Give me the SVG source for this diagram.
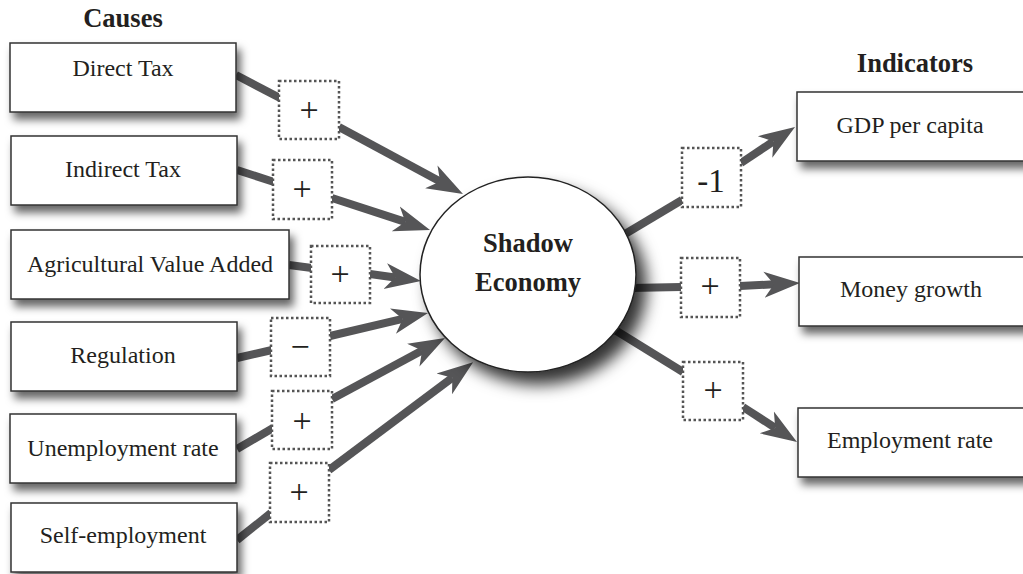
<svg xmlns="http://www.w3.org/2000/svg" width="1023" height="574" viewBox="0 0 1023 574">
<defs>
<style>
.box{fill:#fff;stroke:#333;stroke-width:1.5}
.dot{fill:#fff;stroke:#555;stroke-width:2.5;stroke-dasharray:2.5 2.5}
.lbl{font-family:"Liberation Serif","Times New Roman",serif;font-size:24px;fill:#231f20;text-anchor:middle}
.ttl{font-family:"Liberation Serif","Times New Roman",serif;font-size:26.5px;font-weight:bold;fill:#231f20;text-anchor:middle}
.sgn{font-family:"Liberation Serif","Times New Roman",serif;font-size:34px;fill:#231f20;text-anchor:middle}
.ln{stroke:#555557;stroke-width:8;fill:none}
.ar{stroke:#555557;stroke-width:8;fill:none;marker-end:url(#head)}
</style>
<filter id="sh" x="-10%" y="-20%" width="130%" height="160%">
<feDropShadow dx="4" dy="7" stdDeviation="4.5" flood-color="#000" flood-opacity="0.6"/>
</filter>
<filter id="shc" x="-20%" y="-20%" width="150%" height="150%">
<feDropShadow dx="10" dy="12" stdDeviation="8" flood-color="#000" flood-opacity="0.8"/>
</filter>
<marker id="head" markerUnits="userSpaceOnUse" markerWidth="40" markerHeight="30" viewBox="0 0 40 30" refX="10" refY="15" orient="auto">
<path d="M36,15 L0,2 L10,15 L0,28 Z" fill="#555557"/>
</marker>
</defs>

<g id="titles">
<text class="ttl" x="123" y="27">Causes</text>
<text class="ttl" x="915" y="72">Indicators</text>
</g>

<g id="connectors">
<line class="ln" x1="236" y1="75" x2="280" y2="98"/>
<line class="ar" x1="339" y1="127" x2="440.1" y2="181.6"/>
<line class="ln" x1="237" y1="170" x2="274" y2="182"/>
<line class="ar" x1="332" y1="198" x2="405.3" y2="221.9"/>
<line class="ln" x1="289" y1="265" x2="312" y2="268"/>
<line class="ar" x1="370" y1="274" x2="395.2" y2="277.5"/>
<line class="ln" x1="237" y1="358" x2="272" y2="350"/>
<line class="ar" x1="330" y1="336" x2="402.7" y2="318.9"/>
<line class="ln" x1="237" y1="449" x2="273" y2="428"/>
<line class="ar" x1="332" y1="399" x2="422.1" y2="350.4"/>
<line class="ln" x1="237" y1="540" x2="271" y2="513"/>
<line class="ar" x1="329" y1="470" x2="452.3" y2="377.8"/>
<line class="ln" x1="620" y1="237" x2="682" y2="200"/>
<line class="ar" x1="741" y1="163" x2="773.4" y2="141.4"/>
<line class="ln" x1="630" y1="288" x2="681" y2="287"/>
<line class="ar" x1="740" y1="286" x2="774" y2="284.3"/>
<line class="ln" x1="615" y1="330" x2="683" y2="372"/>
<line class="ar" x1="743" y1="407" x2="775.2" y2="427.9"/>
</g>

<g id="shadow-economy">
<ellipse cx="528" cy="274.5" rx="108" ry="97.5" fill="#fff" stroke="#222" stroke-width="1.5" filter="url(#shc)"/>
<text class="ttl" x="528" y="252">Shadow</text>
<text class="ttl" x="528" y="291">Economy</text>
</g>

<g id="direct-tax">
<rect class="box" x="10" y="43" width="226" height="69" filter="url(#sh)"/>
<text class="lbl" x="123" y="76">Direct Tax</text>
</g>
<g id="indirect-tax">
<rect class="box" x="11" y="136" width="226" height="69" filter="url(#sh)"/>
<text class="lbl" x="123" y="177">Indirect Tax</text>
</g>
<g id="agricultural-value-added">
<rect class="box" x="11" y="230" width="278" height="69" filter="url(#sh)"/>
<text class="lbl" x="150" y="272">Agricultural Value Added</text>
</g>
<g id="regulation">
<rect class="box" x="11" y="322" width="226" height="69" filter="url(#sh)"/>
<text class="lbl" x="123" y="363">Regulation</text>
</g>
<g id="unemployment-rate">
<rect class="box" x="10" y="414" width="226" height="69" filter="url(#sh)"/>
<text class="lbl" x="123" y="456">Unemployment rate</text>
</g>
<g id="self-employment">
<rect class="box" x="11" y="503" width="226" height="69" filter="url(#sh)"/>
<text class="lbl" x="123" y="543">Self-employment</text>
</g>

<g id="gdp-per-capita">
<rect class="box" x="797" y="92" width="230" height="69" filter="url(#sh)"/>
<text class="lbl" x="910" y="133">GDP per capita</text>
</g>
<g id="money-growth">
<rect class="box" x="799" y="257" width="230" height="69" filter="url(#sh)"/>
<text class="lbl" x="911" y="297">Money growth</text>
</g>
<g id="employment-rate">
<rect class="box" x="798" y="408" width="230" height="69" filter="url(#sh)"/>
<text class="lbl" x="910" y="448">Employment rate</text>
</g>

<g id="sign-direct-tax">
<rect class="dot" x="279" y="81" width="60" height="58"/>
<text class="sgn" x="309" y="121">+</text>
</g>
<g id="sign-indirect-tax">
<rect class="dot" x="273" y="160" width="59" height="59"/>
<text class="sgn" x="302" y="200">+</text>
</g>
<g id="sign-agricultural">
<rect class="dot" x="311" y="246" width="59" height="57"/>
<text class="sgn" x="340" y="285">+</text>
</g>
<g id="sign-regulation">
<rect class="dot" x="271" y="318" width="59" height="58"/>
<text class="sgn" x="300" y="358">−</text>
</g>
<g id="sign-unemployment">
<rect class="dot" x="272" y="391" width="60" height="58"/>
<text class="sgn" x="302" y="432">+</text>
</g>
<g id="sign-self-employment">
<rect class="dot" x="270" y="463" width="59" height="59"/>
<text class="sgn" x="299" y="503">+</text>
</g>
<g id="sign-gdp">
<rect class="dot" x="682" y="148" width="59" height="59"/>
<text class="sgn" x="711" y="192" style="font-size:33px">-1</text>
</g>
<g id="sign-money">
<rect class="dot" x="681" y="258" width="59" height="59"/>
<text class="sgn" x="710" y="297">+</text>
</g>
<g id="sign-employment">
<rect class="dot" x="683" y="362" width="60" height="58"/>
<text class="sgn" x="713" y="401">+</text>
</g>
</svg>
